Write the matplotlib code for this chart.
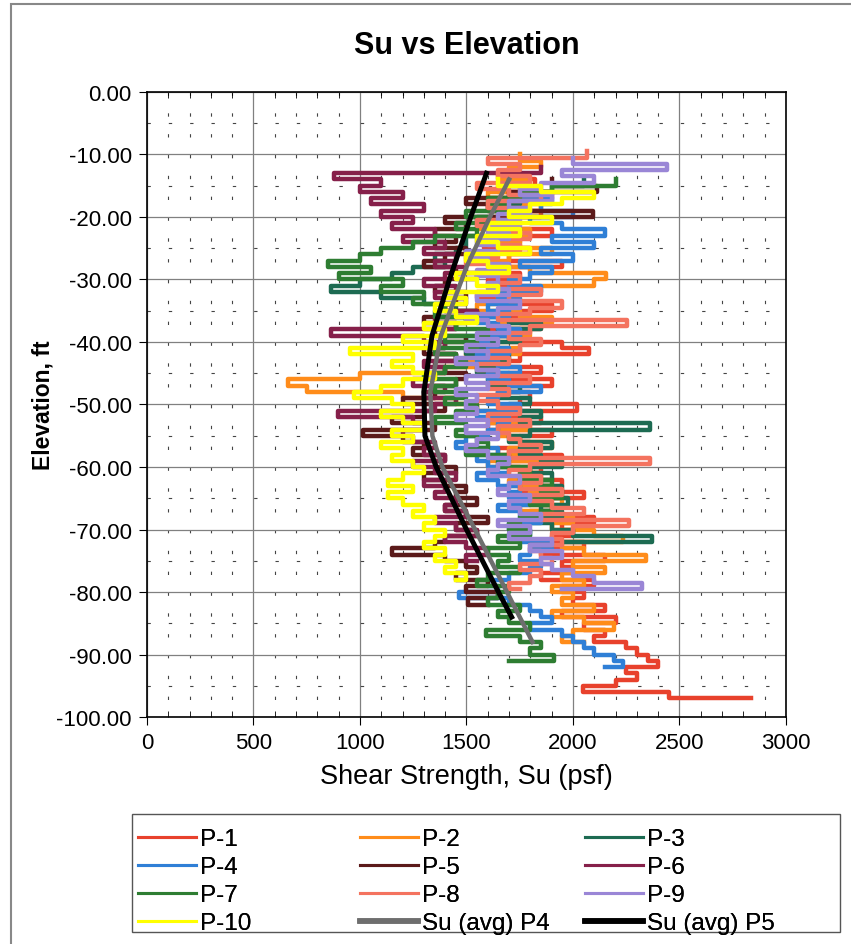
import matplotlib
matplotlib.use("Agg")
import matplotlib.pyplot as plt
import numpy as np
from matplotlib.patches import Rectangle

plt.rcParams['font.family'] = ['Liberation Sans', 'DejaVu Sans']

# ---- data: Su (psf), one value per foot of elevation ----
top_p1 = -13
su_p1 = [1700, 1820, 1650, 1900, 1750, 1600, 1850, 1700,
         1650, 1900, 1750, 1580, 1800, 1700, 1950, 1650, 1750, 1600,
         1800, 1550, 1700, 1900, 1650, 1750, 1850, 1600, 1700, 1950,
         2076, 1750, 1600, 1850, 1700, 1900, 1650, 1800, 1750, 2017,
         1700, 1850, 1600, 1900, 1750, 1800, 1650, 1950, 1700, 1850,
         1800, 1950, 1750, 2050, 1850, 1900, 1800, 2100, 1950, 2000,
         1900, 2050, 1850, 2150, 1950, 2000, 1850, 2100, 1950, 2050,
         2000, 2150, 1950, 2200, 2050, 2150, 2100, 2250, 2300, 2350,
         2400, 2250, 2300, 2200, 2047, 2450, 2834]

top_p2 = -10
su_p2 = [1750, 1850, 1700, 1650, 1800, 1750, 1600, 1700, 1850, 1650,
         1700, 1550, 1800, 1650, 1750, 1900, 1700, 1600, 1800, 2155,
         2100, 1800, 1650, 1700, 1550, 1750, 1900, 1650, 1800, 1700,
         1600, 1750, 1500, 1650, 1400, 1000, 660, 750, 1200, 1450,
         1550, 1700, 1600, 1800, 1650, 1750, 1900, 1700, 1850, 1600,
         1750, 1850, 1700, 1900, 1800, 1950, 1750, 1850, 2000, 1900,
         2100, 2234, 1950, 2050, 2342, 2000, 2150, 1950, 2050, 1900,
         2000, 1950, 2100, 1900, 2050, 2194, 2000, 1950, 2050]

top_p3 = -14
su_p3 = [2050, 1900, 1800, 1750, 1650, 1700, 1550, 1600, 1750, 1500,
         1500, 1450, 1350, 1400, 1250, 1150, 1000, 866, 1100, 1300,
         1450, 1550, 1700, 1850, 1650, 1750, 1600, 1500, 1700, 1650,
         1550, 1700, 1600, 1750, 1650, 1800, 1700, 1850, 1750, 2362,
         1800, 1700, 1900, 1750, 1850, 1950, 1800, 1900, 1850, 1950,
         1900, 1978, 1850, 1950, 1800, 1900, 2000, 2371, 1950]

top_p4 = -14
su_p4 = [1700, 1800, 1750, 1900, 1850, 2000, 1800, 1950, 2150, 1900,
         2100, 1850, 2000, 1750, 1900, 1800, 1700, 1850, 1650, 1750,
         1600, 1700, 1550, 1650, 1750, 1500, 1600, 1700, 1550, 1650,
         1750, 1600, 1700, 1850, 1650, 1600, 1750, 1550, 1700, 1650,
         1600, 1500, 1450, 1650, 1550, 1600, 1700, 1550, 1650, 1750,
         1700, 1800, 1650, 1750, 1850, 1700, 1800, 1750, 1900, 1800,
         1750, 1850, 1800, 1700, 1600, 1650, 1466, 1700, 1800, 1850,
         1900, 1800, 1950, 2000, 2050, 2100, 2194, 2234, 2150]

top_p5 = -14
su_p5 = [1900, 2115, 1700, 1500, 1600, 2096, 1400, 1500, 1350, 1450,
         1350, 1500, 1400, 1300, 1450, 1550, 1400, 1350, 1500, 1450,
         1400, 1550, 1300, 1450, 1350, 1500, 1400, 1300, 1450, 1350,
         1400, 1500, 1450, 1300, 1350, 1200, 1400, 1300, 1150, 1350,
         1013, 1200, 1300, 1250, 1400, 1350, 1450, 1300, 1400, 1500,
         1450, 1550, 1400, 1500, 1600, 1450, 1550, 1400, 1350, 1151,
         1400, 1500, 1550, 1450, 1600, 1500, 1650, 1505, 1600]

top_p6 = -12
su_p6 = [1850, 876, 1100,
         1000, 1200, 1050, 1300, 1100, 1250, 1150, 1350, 1200, 1400,
         1300, 1450, 1350, 1500, 1400, 1300, 1450, 1350, 1500, 1400,
         1550, 1350, 1450, 866, 1300, 1400, 1350, 1450, 1300, 1400,
         1350, 1250, 1400, 1300, 1450, 1350, 895, 1250, 1300, 1200,
         1250, 1350, 1300, 1400, 1250, 1350, 1450, 1300, 1400, 1350,
         1450, 1400, 1500, 1350, 1450, 1550, 1400, 1500, 1600, 1500, 1550]

top_p7 = -14
su_p7 = [2200, 1900, 1750, 1600, 1700, 1500, 1600, 1450, 1550, 1350,
         1250, 1100, 1000, 850, 1050, 900, 1200, 1100, 1300, 1250,
         1400, 1350, 1500, 1450, 1600, 1400, 1550, 1350, 1450, 1500,
         1400, 1300, 1450, 1350, 1500, 1400, 1550, 1450, 1350, 1500,
         1450, 1550, 1600, 1500, 1700, 1650, 1800, 1750, 1900, 1850,
         1950, 1800, 1900, 1850, 1750, 1700, 1800, 1650, 1750, 1600,
         1700, 1650, 1750, 1600, 1550, 1700, 1650, 1600, 1750, 1650,
         1700, 1800, 1594, 1750, 1850, 1800, 1910, 1700]

top_p8 = -9.5
su_p8 = [2066, 1600, 1750, 1650, 1800, 1550, 1700, 1850, 1600, 1750,
         1700, 1550, 1650, 1800, 1600, 1750, 1650, 1500, 1700, 1600,
         1750, 1650, 1850, 1700, 1950, 1800, 1650, 2253, 1800, 1700,
         1850, 1750, 1600, 1700, 1550, 1650, 1800, 1600, 1700, 1550,
         1650, 1750, 1600, 1800, 1650, 1700, 1750, 1850, 1700, 2362,
         1800, 1700, 1850, 1750, 1950, 1800, 1900, 2050, 1850, 2263,
         2000, 1900, 1950, 1800, 1850, 1900, 1750, 1850, 1800, 1700, 1750]

top_p9 = -10.5
su_p9 = [2000, 2440, 1950, 2100, 1850, 1750, 1900, 1700, 1800, 1650,
         1750, 1600, 1700, 1550, 1650, 1500, 1600, 1700, 1550, 1650,
         1600, 1700, 1550, 1750, 1650, 1500, 1600, 1700, 1550, 1650,
         1500, 1600, 1450, 1550, 1650, 1500, 1600, 1450, 1550, 1500,
         1550, 1450, 1600, 1500, 1650, 1550, 1500, 1600, 1700, 1650,
         1600, 1750, 1700, 1650, 1800, 1700, 1750, 1850, 1650, 1800,
         1700, 1900, 1800, 1950, 1850, 1900, 2000, 2100, 2322, 1950]

top_p10 = -14
su_p10 = [1650, 1850, 2100, 1950, 1800, 1700, 1900, 1600, 1750, 1550,
          1650, 1800, 1500, 1600, 1700, 1450, 1550, 1650, 1400, 1500,
          1350, 1450, 1550, 1300, 1400, 1200, 1350, 955, 1250, 1150,
          1250, 1350, 1200, 1100, 974, 1150, 1250, 1100, 1200, 1300,
          1150, 1250, 1100, 1200, 1150, 1250, 1300, 1200, 1130, 1250,
          1130, 1200, 1300, 1250, 1350, 1300, 1400, 1350, 1300, 1400,
          1350, 1450, 1400, 1500, 1450]

# average profiles
elev_avg_p4 = [-14, -20, -28, -39, -48, -55, -60, -70, -80, -88]
su_avg_p4 = [1700, 1610, 1500, 1380, 1330, 1340, 1387, 1540, 1690, 1810]
elev_avg_p5 = [-13, -20, -30, -39, -48, -55, -60, -70, -80, -84]
su_avg_p5 = [1594, 1520, 1420, 1338, 1300, 1305, 1358, 1500, 1650, 1712]

names = ['P-1', 'P-2', 'P-3', 'P-4', 'P-5', 'P-6', 'P-7', 'P-8', 'P-9', 'P-10']
tops = [top_p1, top_p2, top_p3, top_p4, top_p5, top_p6, top_p7, top_p8, top_p9, top_p10]
series = [su_p1, su_p2, su_p3, su_p4, su_p5, su_p6, su_p7, su_p8, su_p9, su_p10]
colors = ['#e8412c', '#ff8c1a', '#1d6b52', '#2f7fd6', '#5b1a1a',
          '#86204a', '#2e7d32', '#f4735f', '#9a86d6', '#ffff00']

fig = plt.figure(figsize=(8.51, 9.45), dpi=100)
ax = fig.add_axes([0.1727, 0.2402, 0.7509, 0.6614])

lines = {}
for name, top, su, c in zip(names, tops, series, colors):
    elev = top - np.arange(len(su))
    ln, = ax.plot(su, elev, color=c, lw=3.2, drawstyle='steps-pre', zorder=3)
    lines[name] = ln

ln4, = ax.plot(su_avg_p4, elev_avg_p4, color='#6e6e6e', lw=3.2, zorder=4)
ln5, = ax.plot(su_avg_p5, elev_avg_p5, color='black', lw=3.6, zorder=5)
lines['Su (avg) P4'] = ln4
lines['Su (avg) P5'] = ln5

ax.set_xlim(0, 3000)
ax.set_ylim(-100, 0)
ax.set_xticks(np.arange(0, 3001, 500))
ax.set_yticks(np.arange(-100, 1, 10))
ax.set_xticks(np.arange(0, 3001, 100), minor=True)
ax.set_yticks(np.arange(-100, 1, 5), minor=True)
ax.set_yticklabels(['%.2f' % v for v in np.arange(-100, 1, 10)])

ax.grid(True, which='major', color='#808080', lw=0.9)
ax.grid(True, which='minor', axis='x', color='#444444', lw=0.8, ls=(3, (3, 15.75)))
ax.grid(True, which='minor', axis='y', color='#444444', lw=0.8, ls=(0, (3, 16.2)))
ax.set_axisbelow(True)

for s in ax.spines.values():
    s.set_linewidth(1.2)
ax.tick_params(which='major', direction='out', length=6, labelsize=16, pad=5)
ax.tick_params(which='minor', length=0)
ax.tick_params(axis='x', which='minor', top=True, direction='in', length=4)

ax.set_title('Su vs Elevation', fontsize=22, fontweight='bold', pad=28)
ax.set_xlabel('Shear Strength, Su (psf)', fontsize=19.5, labelpad=7)
ax.set_ylabel('Elevation, ft', fontsize=16.5, fontweight='bold', labelpad=1)

# legend: three columns laid out like the spreadsheet legend
legend_cols = [['P-1', 'P-4', 'P-7', 'P-10'],
               ['P-2', 'P-5', 'P-8', 'Su (avg) P4'],
               ['P-3', 'P-6', 'P-9', 'Su (avg) P5']]
col_x = [138 / 851, 360 / 851, 585 / 851]
for keys, x0 in zip(legend_cols, col_x):
    lg = fig.legend([lines[k] for k in keys], keys, loc='upper left',
                    bbox_to_anchor=(x0, 1 - 829 / 945), frameon=False,
                    fontsize=17.5, handlelength=2.4, handletextpad=0.15,
                    labelspacing=0.25, borderpad=0, borderaxespad=0)
    for key, h in zip(keys, lg.legend_handles):
        if key.startswith('P-'):
            h.set_linewidth(2.2)
        else:
            h.set_linewidth(4.0)
    fig.add_artist(lg)

fig.patches.append(Rectangle((132 / 851, 1 - 933 / 945), 708 / 851, 118 / 945,
                             transform=fig.transFigure, fill=False,
                             edgecolor='#555555', lw=1.0))

# outer chart border
fig.patches.append(Rectangle((0.013, -0.05), 1.2, 1.045, transform=fig.transFigure,
                             fill=False, edgecolor='#888888', lw=1.5))

fig.savefig('out.png', dpi=100)
